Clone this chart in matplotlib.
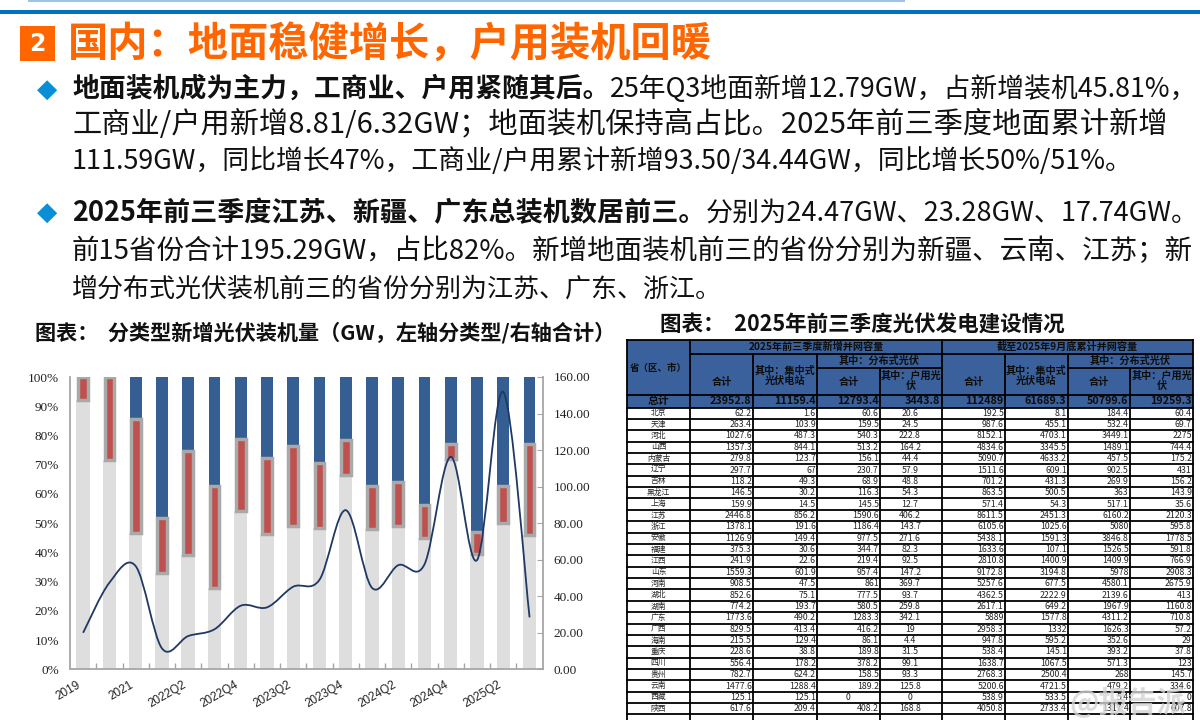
import matplotlib
matplotlib.use('Agg')
import matplotlib.pyplot as plt
from matplotlib.path import Path
from matplotlib.patches import PathPatch, Rectangle
import numpy as np

plt.rcParams['font.family'] = ['Noto Sans CJK SC', 'DejaVu Sans']

# ---------------- chart data ----------------
categories = ['2019', '2020', '2021', '2022Q1', '2022Q2', '2022Q3', '2022Q4',
              '2023Q1', '2023Q2', '2023Q3', '2023Q4', '2024Q1', '2024Q2',
              '2024Q3', '2024Q4', '2025Q1', '2025Q2', '2025Q3']
ground_share = [92.0, 71.5, 46.8, 33.1, 39.1, 27.9, 54.2, 46.2, 49.1, 48.4,
                66.6, 48.0, 49.1, 44.8, 71.8, 39.4, 49.9, 45.9]
ci_share = [8.0, 28.5, 38.7, 18.5, 35.6, 34.7, 24.6, 26.0, 27.4, 22.1,
            11.8, 14.8, 15.0, 11.4, 5.4, 7.6, 12.9, 31.1]
resid_share = [0.0, 0.0, 14.5, 48.4, 25.3, 37.4, 21.2, 27.8, 23.5, 29.5,
               21.6, 37.2, 35.9, 43.8, 22.8, 53.0, 37.2, 23.0]
total_gw = [20.0, 47.4, 56.5, 11.5, 18.2, 21.9, 34.8, 33.9, 45.2, 49.0,
            87.1, 44.6, 57.0, 57.5, 116.3, 59.8, 151.8, 28.4]
left_ticks = [0, 10, 20, 30, 40, 50, 60, 70, 80, 90, 100]
right_ticks = [0, 20, 40, 60, 80, 100, 120, 140, 160]

# ---------------- table data ----------------
provinces = ['北京', '天津', '河北', '山西', '内蒙古', '辽宁', '吉林', '黑龙江', '上海',
             '江苏', '浙江', '安徽', '福建', '江西', '山东', '河南', '湖北', '湖南',
             '广东', '广西', '海南', '重庆', '四川', '贵州', '云南', '西藏', '陕西']
new_total = [62.2, 263.4, 1027.6, 1357.3, 279.8, 297.7, 118.2, 146.5, 159.9,
             2446.8, 1378.1, 1126.9, 375.3, 241.9, 1559.3, 908.5, 852.6, 774.2,
             1773.6, 829.5, 215.5, 228.6, 556.4, 782.7, 1477.6, 125.1, 617.6]
new_central = [1.6, 103.9, 487.3, 844.1, 123.7, 67, 49.3, 30.2, 14.5,
               856.2, 191.6, 149.4, 30.6, 22.6, 601.9, 47.5, 75.1, 193.7,
               490.2, 413.4, 129.4, 38.8, 178.2, 624.2, 1288.4, 125.1, 209.4]
new_dist = [60.6, 159.5, 540.3, 513.2, 156.1, 230.7, 68.9, 116.3, 145.5,
            1590.6, 1186.4, 977.5, 344.7, 219.4, 957.4, 861, 777.5, 580.5,
            1283.3, 416.2, 86.1, 189.8, 378.2, 158.5, 189.2, 0, 408.2]
new_resid = [20.6, 24.5, 222.8, 164.2, 44.4, 57.9, 48.8, 54.3, 12.7,
             406.2, 143.7, 271.6, 82.3, 92.5, 147.2, 369.7, 93.7, 259.8,
             342.1, 19, 4.4, 31.5, 99.1, 93.3, 125.8, 0, 168.8]
cum_total = [192.5, 987.6, 8152.1, 4834.6, 5090.7, 1511.6, 701.2, 863.5, 571.4,
             8611.5, 6105.6, 5438.1, 1633.6, 2810.8, 9172.8, 5257.6, 4362.5, 2617.1,
             5889, 2958.3, 947.8, 538.4, 1638.7, 2768.3, 5200.6, 538.9, 4050.8]
cum_central = [8.1, 455.1, 4703.1, 3345.5, 4633.2, 609.1, 431.3, 500.5, 54.3,
               2451.3, 1025.6, 1591.3, 107.1, 1400.9, 3194.8, 677.5, 2222.9, 649.2,
               1577.8, 1332, 595.2, 145.1, 1067.5, 2500.4, 4721.5, 533.5, 2733.4]
cum_dist = [184.4, 532.4, 3449.1, 1489.1, 457.5, 902.5, 269.9, 363, 517.1,
            6160.2, 5080, 3846.8, 1526.5, 1409.9, 5978, 4580.1, 2139.6, 1967.9,
            4311.2, 1626.3, 352.6, 393.2, 571.3, 268, 479.2, 5.4, 1317.4]
cum_resid = [60.4, 69.7, 2275, 744.4, 175.2, 431, 156.2, 143.9, 35.6,
             2120.3, 595.8, 1778.5, 591.8, 766.9, 2908.3, 2675.9, 413, 1160.8,
             710.8, 57.2, 29, 37.8, 123, 145.7, 334.6, 0, 607.8]
totals = [23952.8, 11159.4, 12793.4, 3443.8, 112488.9, 61689.3, 50799.6, 19259.3]

# ---------------- figure ----------------
fig = plt.figure(figsize=(12, 7.2), dpi=100)
fig.patch.set_facecolor('white')
ov = fig.add_axes([0, 0, 1, 1])
ov.set_xlim(0, 1200)
ov.set_ylim(720, 0)
ov.axis('off')
renderer = fig.canvas.get_renderer()


def fit_line(segments, x0, x1, y, base=20):
    total = 0
    for s, w, c in segments:
        t = ov.text(0, y, s, fontsize=base, fontweight=w)
        total += t.get_window_extent(renderer).width
        t.remove()
    size = base * (x1 - x0) / total
    x = x0
    for s, w, c in segments:
        t = ov.text(x, y, s, fontsize=size, fontweight=w, color=c,
                    va='center', ha='left')
        x += t.get_window_extent(renderer).width


# header decorations
ov.plot([28, 905], [1, 1], color='#9dc3e6', lw=1.5, solid_capstyle='butt')
ov.add_patch(Rectangle((0, 10), 1200, 4, color='#0070c0', lw=0))
ov.add_patch(Rectangle((20, 26), 35, 35, color='#ff6600', lw=0))
ov.text(37.5, 44, '2', color='white', fontsize=17, fontweight='bold',
        ha='center', va='center', family='DejaVu Sans')
fit_line([('国内：地面稳健增长，户用装机回暖', 'bold', '#ff6600')], 68, 712, 44, base=28)

for yy in (90, 213):
    ov.text(47, yy, '◆', color='#0a8fd6', fontsize=19, ha='center',
            va='center', family='DejaVu Sans')

K = '#111111'
fit_line([('地面装机成为主力，工商业、户用紧随其后。', 'bold', K),
          ('25年Q3地面新增12.79GW，占新增装机45.81%，', 'normal', K)], 72, 1195, 89)
fit_line([('工商业/户用新增8.81/6.32GW；地面装机保持高占比。2025年前三季度地面累计新增', 'normal', K)],
         72, 1165, 125)
fit_line([('111.59GW，同比增长47%，工商业/户用累计新增93.50/34.44GW，同比增长50%/51%。', 'normal', K)],
         72, 1133, 161)
fit_line([('2025年前三季度江苏、新疆、广东总装机数居前三。', 'bold', K),
          ('分别为24.47GW、23.28GW、17.74GW。', 'normal', K)], 72, 1195, 213)
fit_line([('前15省份合计195.29GW，占比82%。新增地面装机前三的省份分别为新疆、云南、江苏；新', 'normal', K)],
         72, 1192, 251)
fit_line([('增分布式光伏装机前三的省份分别为江苏、广东、浙江。', 'normal', K)], 72, 722, 289)

fit_line([('图表：  分类型新增光伏装机量（GW，左轴分类型/右轴合计）', 'bold', K)], 35, 615, 333, base=12)
fit_line([('图表：  2025年前三季度光伏发电建设情况', 'bold', K)], 660, 1065, 325, base=12)

# ---------------- chart ----------------
ax = fig.add_axes([70 / 1200, 1 - 669.3 / 720, (542.7 - 70) / 1200, (669.3 - 377) / 720])
ax.set_facecolor('none')
n = len(categories)
x = np.arange(n)
g = np.array(ground_share)
c = np.array(ci_share)
r = np.array(resid_share)
ax.bar(x, g, width=0.51, color='#dedede', zorder=2)
ax.bar(x, r, bottom=g + c, width=0.45, color='#355e92', zorder=3)
ax.bar(x, c, bottom=g, width=0.37, color='#c0504d', edgecolor='#a9a9a9',
       linewidth=2.5, zorder=4)
ax.set_xlim(-0.5, n - 0.5)
ax.set_ylim(0, 100)
ax.set_yticks(left_ticks, labels=[f'{v}%' for v in left_ticks],
              fontfamily='Liberation Serif', fontsize=9.5, color='#222222')
ax.set_xticks(x[::2], labels=categories[::2], rotation=30, ha='right',
              fontfamily='Liberation Sans', fontsize=8.5, color='#222222')
ax.set_xticks(np.arange(0.5, n - 1, 1), minor=True)
ax.tick_params(axis='x', which='major', length=0, pad=7)
ax.tick_params(axis='x', which='minor', direction='in', length=4, color='#a6a6a6', width=1)
ax.tick_params(axis='y', direction='in', length=0, pad=8)
for s in ('top', 'right'):
    ax.spines[s].set_visible(False)
for s in ('left', 'bottom'):
    ax.spines[s].set_color('#a6a6a6')
    ax.spines[s].set_linewidth(1.3)

ax2 = ax.twinx()
ax2.set_ylim(0, 160)
ax2.set_yticks(right_ticks, labels=[f'{v:.2f}' for v in right_ticks],
               fontfamily='Liberation Serif', fontsize=9.5, color='#222222')
ax2.tick_params(axis='y', direction='in', length=4, color='#a6a6a6', pad=8)
for s in ('top', 'left', 'bottom'):
    ax2.spines[s].set_visible(False)
ax2.spines['right'].set_color('#a6a6a6')
ax2.spines['right'].set_linewidth(1.3)

ys = np.array(total_gw, dtype=float)
verts = [(x[0], ys[0])]
codes = [Path.MOVETO]
for i in range(n - 1):
    p0 = np.array([x[max(i - 1, 0)], ys[max(i - 1, 0)]])
    p1 = np.array([x[i], ys[i]])
    p2 = np.array([x[i + 1], ys[i + 1]])
    p3 = np.array([x[min(i + 2, n - 1)], ys[min(i + 2, n - 1)]])
    c1 = p1 + (p2 - p0) / 6.0
    c2 = p2 - (p3 - p1) / 6.0
    verts += [tuple(c1), tuple(c2), tuple(p2)]
    codes += [Path.CURVE4] * 3
ax2.add_patch(PathPatch(Path(verts, codes), facecolor='none',
                        edgecolor='#1f3864', lw=1.3, zorder=6))

# ---------------- table ----------------
col_x = [627, 690, 753, 817, 880, 942, 1005, 1068, 1130, 1193]
h0, h1, h2, h3, h4 = 339.5, 353.5, 367.5, 395.0, 407.5
row_h = 11.37
nrows = len(provinces)
hdr_blue = '#3b619c'
ov.add_patch(Rectangle((col_x[0], h0), col_x[-1] - col_x[0], h4 - h0,
                       facecolor=hdr_blue, edgecolor='none'))
LW = 1.3
LC = '#000000'


def hline(y, xa, xb):
    ov.plot([xa, xb], [y, y], color=LC, lw=LW, solid_capstyle='projecting')


def vline(xv, ya, yb):
    ov.plot([xv, xv], [ya, yb], color=LC, lw=LW, solid_capstyle='projecting')


bottom = h4 + (nrows + 1) * row_h
hline(h0, col_x[0], col_x[-1])
hline(h1, col_x[1], col_x[-1])
hline(h2, col_x[3], col_x[5])
hline(h2, col_x[7], col_x[9])
hline(h3, col_x[0], col_x[-1])
hline(h4, col_x[0], col_x[-1])
for k in range(1, nrows + 2):
    hline(h4 + k * row_h, col_x[0], col_x[-1])
for i in (0, 1, 5, 9):
    vline(col_x[i], h0, bottom)
for i in (2, 3, 6, 7):
    vline(col_x[i], h1, bottom)
for i in (4, 8):
    vline(col_x[i], h2, bottom)

HK = '#0d0d0d'
hs = 7.3
ov.text((col_x[0] + col_x[1]) / 2, 368, '省（区、市）', fontsize=6.8, fontweight='bold',
        color=HK, ha='center', va='center')
for gi, title in enumerate(['2025年前三季度新增并网容量', '截至2025年9月底累计并网容量']):
    b = 4 * gi
    ov.text((col_x[1 + b] + col_x[5 + b]) / 2, 346.5, title, fontsize=hs,
            fontweight='bold', color=HK, ha='center', va='center')
    ov.text((col_x[1 + b] + col_x[2 + b]) / 2, 381.5, '合计', fontsize=hs,
            fontweight='bold', color=HK, ha='center', va='center')
    ov.text((col_x[2 + b] + col_x[3 + b]) / 2, 376, '其中：集中式\n光伏电站', fontsize=hs,
            fontweight='bold', color=HK, ha='center', va='center', linespacing=1.05)
    ov.text((col_x[3 + b] + col_x[5 + b]) / 2, 360.5, '其中：分布式光伏', fontsize=hs,
            fontweight='bold', color=HK, ha='center', va='center')
    ov.text((col_x[3 + b] + col_x[4 + b]) / 2, 381.5, '合计', fontsize=hs,
            fontweight='bold', color=HK, ha='center', va='center')
    ov.text((col_x[4 + b] + col_x[5 + b]) / 2, 381, '其中：户用光\n伏', fontsize=hs,
            fontweight='bold', color=HK, ha='center', va='center', linespacing=1.05)

ty = (h3 + h4) / 2
ov.text((col_x[0] + col_x[1]) / 2, ty, '总计', fontsize=7.8, fontweight='bold',
        color=HK, ha='center', va='center')
for j, v in enumerate(totals):
    ov.text(col_x[j + 2] - 1.5, ty, f'{v:g}' if v % 1 else f'{v:.1f}', fontsize=7.8,
            fontweight='bold', color=HK, ha='right', va='center')


def fmt(v):
    return f'{v:g}'


columns = [new_total, new_central, new_dist, new_resid,
           cum_total, cum_central, cum_dist, cum_resid]
for k, prov in enumerate(provinces):
    yc = h4 + (k + 0.5) * row_h
    ov.text((col_x[0] + col_x[1]) / 2, yc, prov, fontsize=5.6, color='#222222',
            ha='center', va='center')
    for j, col in enumerate(columns):
        v = col[k]
        if j == 3 or (v == 0 and j < 4):
            ov.text((col_x[j + 1] + col_x[j + 2]) / 2 - 1, yc, fmt(v), fontsize=6.3,
                    color='#222222', ha='center', va='center')
        else:
            ov.text(col_x[j + 2] - 1.2, yc, fmt(v), fontsize=6.3,
                    color='#222222', ha='right', va='center')

ov.text(1128, 702, '@报告派', fontsize=21, color='#d4d4d4', alpha=0.8,
        ha='center', va='center', fontweight='bold')

fig.savefig('out.png', dpi=100, facecolor='white')
